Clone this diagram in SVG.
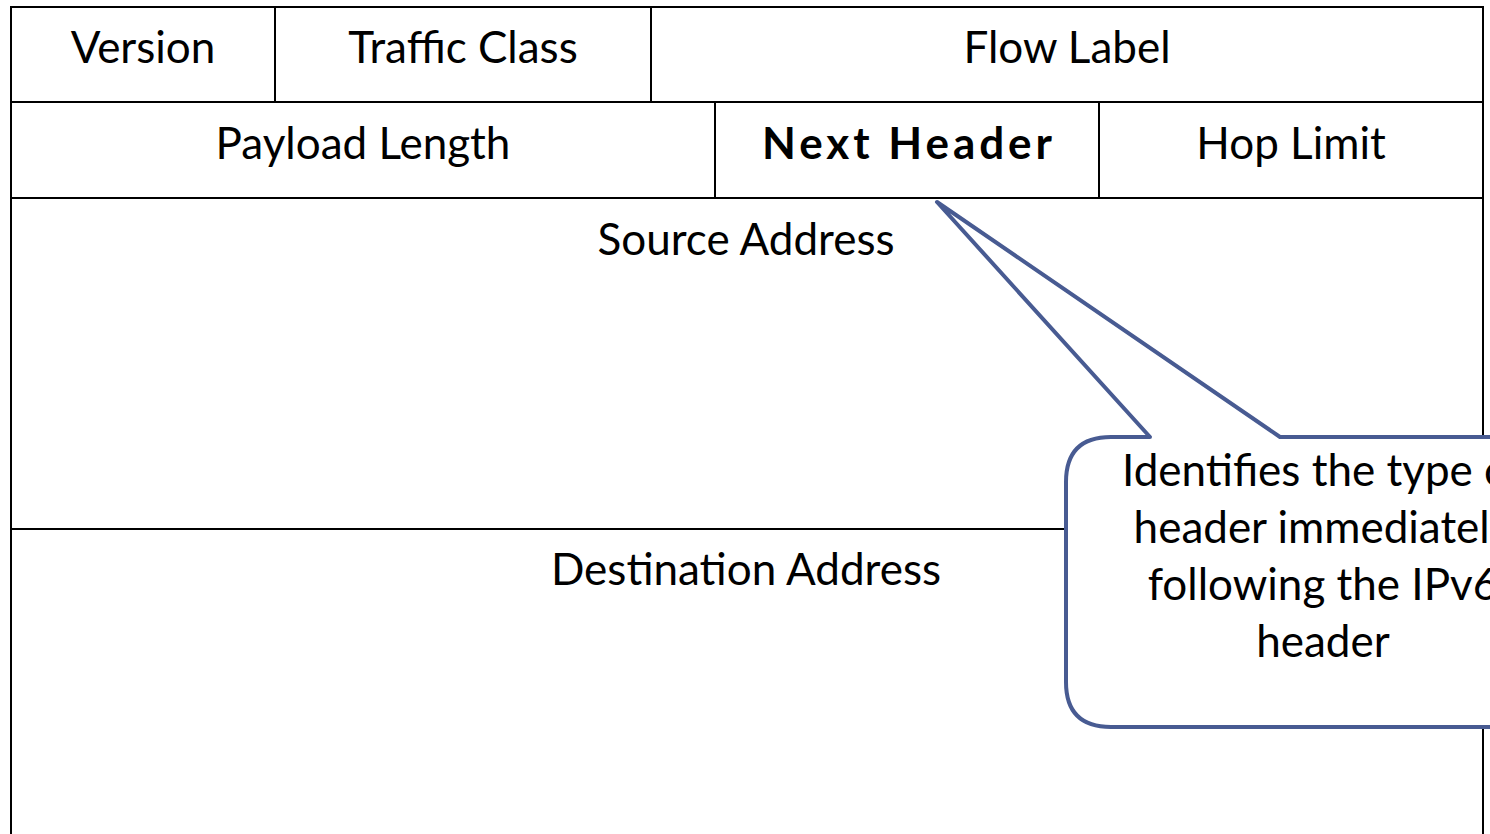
<svg xmlns="http://www.w3.org/2000/svg" width="1490" height="834" viewBox="0 0 1490 834">
  <style>
    .cell { fill: #ffffff; stroke: #000000; stroke-width: 2; }
    .rule { stroke: #000000; stroke-width: 2; fill: none; }
    .lbl { font-family: Lato, "Open Sans", "Liberation Sans", sans-serif; font-size: 44px; fill: #000000; text-anchor: middle; }
    .bold { font-weight: bold; }
    .callout { fill: #ffffff; stroke: #485b92; stroke-width: 4; stroke-linejoin: round; }
  </style>
  <rect x="0" y="0" width="1490" height="834" fill="#ffffff"/>

  <!-- IPv6 header layout -->
  <g id="header-table">
    <rect class="cell" x="11" y="7" width="1472" height="840"/>
    <line class="rule" x1="11" y1="102" x2="1483" y2="102"/>
    <line class="rule" x1="11" y1="198" x2="1483" y2="198"/>
    <line class="rule" x1="11" y1="529" x2="1483" y2="529"/>
    <line class="rule" x1="275" y1="7" x2="275" y2="102"/>
    <line class="rule" x1="651" y1="7" x2="651" y2="102"/>
    <line class="rule" x1="715" y1="102" x2="715" y2="198"/>
    <line class="rule" x1="1099" y1="102" x2="1099" y2="198"/>
  </g>

  <g id="version"><text class="lbl" x="143" y="63">Version</text></g>
  <g id="traffic-class"><text class="lbl" x="463" y="63">Traffic Class</text></g>
  <g id="flow-label"><text class="lbl" x="1067" y="63">Flow Label</text></g>
  <g id="payload-length"><text class="lbl" x="363" y="159">Payload Length</text></g>
  <g id="next-header"><text class="lbl bold" x="907" y="159" textLength="290" lengthAdjust="spacing">Next Header</text></g>
  <g id="hop-limit"><text class="lbl" x="1291" y="159">Hop Limit</text></g>
  <g id="source-address"><text class="lbl" x="746" y="255">Source Address</text></g>
  <g id="destination-address"><text class="lbl" x="746" y="585">Destination Address</text></g>

  <!-- callout pointing at Next Header -->
  <g id="connectors">
    <path class="callout" d="M1111,437 L1150,437 L937,202 L1280,437 L1600,437 L1600,727 L1111,727 Q1066,727 1066,682 L1066,482 Q1066,437 1111,437 Z"/>
  </g>
  <g id="callout-text">
    <text class="lbl" x="1323" y="486">Identifies the type of</text>
    <text class="lbl" x="1323" y="543">header immediately</text>
    <text class="lbl" x="1323" y="600">following the IPv6</text>
    <text class="lbl" x="1323" y="657">header</text>
  </g>
</svg>
